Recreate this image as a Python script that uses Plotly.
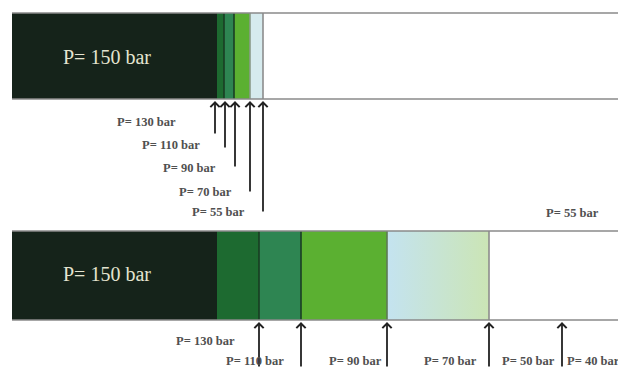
import plotly.graph_objects as go

# ---------------- data ----------------
# band geometry (pixel-like data units, x: 0..618, y: 0..368 top-down)
band_names = ["top", "bottom"]
band_top = [13, 231]
band_bottom = [99, 320]
band_left = 12
band_right = 618

# segment boundaries of each band
top_edges = [12, 217, 224, 234, 250, 263]
bottom_edges = [12, 217, 259, 301, 387, 489]
seg_colors = ["#15231a", "#1d6a30", "#2e8552", "#5bb031", "#d6ebee"]
gradient_colors = ["#c4e3f0", "#cbe5b5"]

# divider lines (x) and their colours
top_dividers = [224, 234, 250, 263]
top_div_colors = ["#1a3d24", "#1a3d24", "#8a9a88", "#8c8c8c"]
bottom_dividers = [259, 301, 387, 489]
bottom_div_colors = ["#1a3d24", "#1a3d24", "#5e7a55", "#8c8c8c"]

# main labels
main_label = "P= 150 bar"
main_label_x = [107, 107]
main_label_y = [57, 274]

# arrows: head x, head y, tail y
top_arrow_x = [215, 225, 235, 250, 263]
top_arrow_tail = [135, 149, 168, 193, 213]
top_arrow_head = 101
bottom_arrow_x = [259, 301, 387, 489, 562]
bottom_arrow_tail = [368, 368, 368, 368, 368]
bottom_arrow_head = 322

# pressure labels
top_labels = ["P= 130 bar", "P= 110 bar", "P= 90 bar", "P= 70 bar", "P= 55 bar", "P= 55 bar"]
top_label_x = [146, 171, 189, 205, 218, 572]
top_label_y = [122, 145, 168, 192, 212, 213]
bottom_labels = ["P= 130 bar", "P= 110 bar", "P= 90 bar", "P= 70 bar", "P= 50 bar", "P= 40 bar"]
bottom_label_x = [205, 255, 355, 450, 528, 593]
bottom_label_y = [341, 361, 361, 361, 361, 361]

# ---------------- figure ----------------
fig = go.Figure()

def add_band(edges, top, bottom, colors):
    yc = (top + bottom) / 2
    h = bottom - top
    n = len(edges) - 1
    for i in range(n):
        fig.add_trace(go.Bar(
            y=[yc], x=[edges[i + 1] - edges[i]], base=[edges[i]],
            width=[h], orientation="h",
            marker=dict(color=colors[i], line=dict(width=0)),
            showlegend=False, hoverinfo="skip"))

add_band(top_edges, band_top[0], band_bottom[0], seg_colors)
add_band(bottom_edges[:-1], band_top[1], band_bottom[1], seg_colors[:4])

# gradient segment of the bottom band
gx0, gx1 = bottom_edges[-2], bottom_edges[-1]
gy0, gy1 = band_top[1], band_bottom[1]
fig.add_trace(go.Scatter(
    x=[gx0, gx1, gx1, gx0, gx0], y=[gy0, gy0, gy1, gy1, gy0],
    mode="lines", line=dict(width=0), fill="toself",
    fillgradient=dict(type="horizontal",
                      colorscale=[[0, gradient_colors[0]], [1, gradient_colors[1]]]),
    showlegend=False, hoverinfo="skip"))

# divider lines
for xs, cols, t, b in [(top_dividers, top_div_colors, band_top[0], band_bottom[0]),
                       (bottom_dividers, bottom_div_colors, band_top[1], band_bottom[1])]:
    for xv, c in zip(xs, cols):
        fig.add_trace(go.Scatter(x=[xv, xv], y=[t, b], mode="lines",
                                 line=dict(color=c, width=1.6),
                                 showlegend=False, hoverinfo="skip"))

# band border lines (top & bottom of each band)
for t, b in zip(band_top, band_bottom):
    for yv in (t, b):
        fig.add_trace(go.Scatter(x=[band_left, band_right], y=[yv, yv], mode="lines",
                                 line=dict(color="#8a8a8a", width=1.6),
                                 showlegend=False, hoverinfo="skip"))

annotations = []
# main labels
for xv, yv in zip(main_label_x, main_label_y):
    annotations.append(dict(x=xv, y=yv, xref="x", yref="y", text=main_label,
                            showarrow=False,
                            font=dict(family="Liberation Serif", size=20, color="#e4e4d0")))

# arrows
def add_arrows(xs, head, tails):
    for xv, tv in zip(xs, tails):
        annotations.append(dict(x=xv, y=head, ax=xv, ay=tv, xref="x", yref="y",
                                axref="x", ayref="y", text="", showarrow=True,
                                arrowhead=4, arrowsize=1.0, arrowwidth=1.8,
                                arrowcolor="#222222", standoff=0, startstandoff=0))

add_arrows(top_arrow_x, top_arrow_head, top_arrow_tail)
add_arrows(bottom_arrow_x, bottom_arrow_head, bottom_arrow_tail)

# pressure labels
for labels, xs, ys in [(top_labels, top_label_x, top_label_y),
                       (bottom_labels, bottom_label_x, bottom_label_y)]:
    for t, xv, yv in zip(labels, xs, ys):
        annotations.append(dict(x=xv, y=yv, xref="x", yref="y", text="<b>" + t + "</b>",
                                showarrow=False,
                                font=dict(family="Liberation Serif", size=12.5, color="#505050")))

fig.update_layout(
    width=618, height=368,
    margin=dict(l=0, r=0, t=0, b=0),
    paper_bgcolor="white", plot_bgcolor="white",
    barmode="overlay", bargap=0,
    xaxis=dict(range=[0, 618], visible=False, fixedrange=True),
    yaxis=dict(range=[368, 0], visible=False, fixedrange=True),
    annotations=annotations,
    showlegend=False,
)

fig.write_html(
    "out.html",
    config={"displayModeBar": False},
    post_script="document.body.style.margin='0';document.body.style.overflow='hidden';",
)
